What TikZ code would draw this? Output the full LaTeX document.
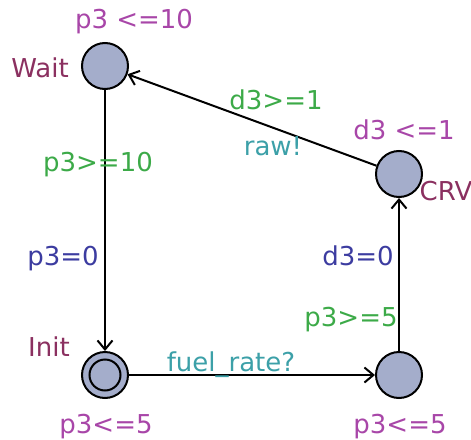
\documentclass[tikz,border=0pt]{standalone}
\usepackage{fontspec}
\setmainfont{DejaVu Sans}
\usetikzlibrary{arrows.meta,positioning}
\definecolor{locfill}{HTML}{A4ADCB}
\definecolor{invcol}{HTML}{A846A8}
\definecolor{namecol}{HTML}{8B3060}
\definecolor{guardcol}{HTML}{3CAA48}
\definecolor{assigncol}{HTML}{3C3CA0}
\definecolor{synccol}{HTML}{3CA0A8}
\begin{document}
\begin{tikzpicture}[x=1pt,y=-1pt,
    font=\fontsize{26}{30}\selectfont,
    loc/.style={circle,draw,line width=2pt,fill=locfill,minimum size=46pt,inner sep=0pt},
    edge/.style={line width=2pt,-{Straight Barb[length=9pt,width=15pt,line width=2pt]}},
    lbl/.style={anchor=base,inner sep=0pt}]
  \useasboundingbox (0,0) rectangle (471,439);
  % locations
  \node[loc] (wait) at (105,66) {};
  \node[loc] (init) at (105,375) {};
  \draw[line width=2pt] (init) circle (15.5pt);
  \node[loc] (fuel) at (399,375) {};
  \node[loc] (crv) at (399,174) {};
  % names and invariants
  \node[lbl,text=namecol] (waitname) at (40,77) {Wait};
  \node[lbl,text=invcol] (waitinv) at (134,28) {p3 <=10};
  \node[lbl,text=namecol] (initname) at (49,356) {Init};
  \node[lbl,text=invcol] (initinv) at (106,433) {p3<=5};
  \node[lbl,text=invcol] (fuelinv) at (400,433) {p3<=5};
  \node[lbl,text=namecol] (crvname) at (446,200) {CRV};
  \node[lbl,text=invcol] (crvinv) at (404,139) {d3 <=1};
  % transitions
  \draw[edge] (wait) -- (init);
  \draw[edge] (init) -- (fuel);
  \draw[edge] (fuel) -- (crv);
  \draw[edge] (crv) -- (wait);
  \node[lbl,text=guardcol] (g1) at (98,171) {p3>=10};
  \node[lbl,text=assigncol] (a1) at (63,265) {p3=0};
  \node[lbl,text=synccol] (s1) at (231,371) {fuel\_rate?};
  \node[lbl,text=guardcol] (g2) at (351,326) {p3>=5};
  \node[lbl,text=assigncol] (a2) at (358,265) {d3=0};
  \node[lbl,text=guardcol] (g3) at (276,109) {d3>=1};
  \node[lbl,text=synccol] (s3) at (273,155) {raw!};
\end{tikzpicture}
\end{document}
